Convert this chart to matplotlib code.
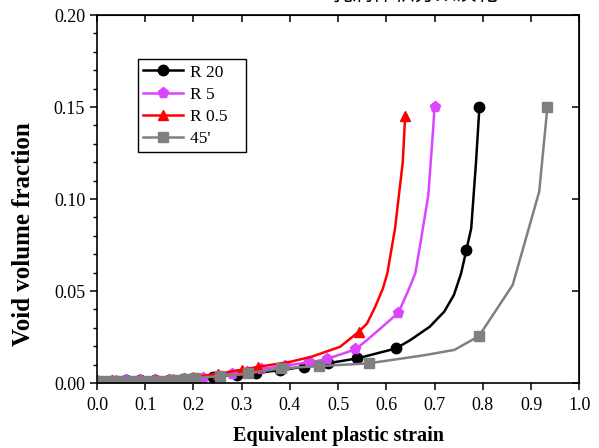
import matplotlib.pyplot as plt

plt.rcParams["font.family"] = ["Liberation Serif", "DejaVu Serif"]

# R 20
x_r20 = [0.00, 0.03, 0.06, 0.09, 0.12, 0.15, 0.18, 0.24, 0.29, 0.33, 0.38, 0.43,
         0.48, 0.54, 0.62, 0.65, 0.69, 0.72, 0.74, 0.755, 0.766, 0.776, 0.786, 0.793]
y_r20 = [0.0013, 0.0013, 0.0014, 0.0015, 0.0016, 0.0018, 0.0022, 0.0032, 0.0045,
         0.0055, 0.0070, 0.0089, 0.0108, 0.0134, 0.0188, 0.0234, 0.0306, 0.0388,
         0.0478, 0.0596, 0.0723, 0.0841, 0.1203, 0.150]
mk_r20 = list(range(15)) + [20, 23]

# R 5
x_r5 = [0.00, 0.03, 0.06, 0.09, 0.12, 0.15, 0.18, 0.22, 0.25, 0.28, 0.31, 0.34,
        0.39, 0.44, 0.476, 0.536, 0.56, 0.584, 0.625, 0.645, 0.66, 0.67, 0.687,
        0.697, 0.700]
y_r5 = [0.0013, 0.0013, 0.0014, 0.0015, 0.0016, 0.0018, 0.0022, 0.0030, 0.0040,
        0.0050, 0.0062, 0.0075, 0.0095, 0.0112, 0.0130, 0.0183, 0.0234, 0.0288,
        0.0382, 0.050, 0.0596, 0.075, 0.102, 0.138, 0.150]
mk_r5 = list(range(16)) + [18, 24]

# R 0.5
x_r05 = [0.00, 0.04, 0.085, 0.12, 0.158, 0.20, 0.25, 0.30, 0.334, 0.40, 0.445,
         0.504, 0.543, 0.56, 0.577, 0.593, 0.602, 0.618, 0.634, 0.639]
y_r05 = [0.0013, 0.0014, 0.0016, 0.0018, 0.0022, 0.0032, 0.0050, 0.0072, 0.0088,
         0.0115, 0.0143, 0.0197, 0.0279, 0.0324, 0.0415, 0.0515, 0.0596, 0.084,
         0.120, 0.145]
mk_r05 = list(range(9)) + [12, 19]

# 45'
x_45 = [0.00, 0.02, 0.04, 0.06, 0.08, 0.10, 0.12, 0.14, 0.16, 0.182, 0.203, 0.255,
        0.313, 0.382, 0.461, 0.563, 0.676, 0.741, 0.792, 0.862, 0.917, 0.934]
y_45 = [0.0012, 0.0012, 0.0012, 0.0012, 0.0012, 0.0012, 0.0013, 0.0013, 0.0014,
        0.0020, 0.0030, 0.0036, 0.0053, 0.0080, 0.0092, 0.0107, 0.0150, 0.0180,
        0.0255, 0.0533, 0.104, 0.150]
mk_45 = list(range(16)) + [18, 21]

x_ticks = [0.0, 0.1, 0.2, 0.3, 0.4, 0.5, 0.6, 0.7, 0.8, 0.9, 1.0]
y_ticks = [0.00, 0.05, 0.10, 0.15, 0.20]

fig = plt.figure(figsize=(5.99, 4.48), dpi=100)
ax = fig.add_axes([0.162, 0.145, 0.805, 0.8215])

ax.plot(x_r20, y_r20, color="black", lw=1.8, marker="o", ms=7.5,
        markevery=mk_r20, label="R 20")
ax.plot(x_r5, y_r5, color="#dd44ff", lw=1.8, marker="p", ms=8,
        markevery=mk_r5, label="R 5")
ax.plot(x_r05, y_r05, color="#ff0000", lw=1.8, marker="^", ms=7.5,
        markevery=mk_r05, label="R 0.5")
ax.plot(x_45, y_45, color="#808080", lw=1.8, marker="s", ms=6.5,
        markevery=mk_45, label="45'")

ax.set_xlim(0, 1.0)
ax.set_ylim(0, 0.20)
ax.set_xticks(x_ticks)
ax.set_yticks(y_ticks)
ax.set_xticklabels([f"{t:.1f}" for t in x_ticks])
ax.set_yticklabels([f"{t:.2f}" for t in y_ticks])
ax.set_yticks([i * 0.01 for i in range(21)], minor=True)
ax.tick_params(axis="both", which="major", direction="out", length=5,
               width=1.1, labelsize=13)
ax.tick_params(axis="x", which="major", pad=5)
ax.tick_params(axis="y", which="minor", direction="out", length=3, width=1)
for s in ax.spines.values():
    s.set_linewidth(1.2)

top = ax.secondary_xaxis("top")
top.set_xticks(x_ticks)
top.tick_params(direction="in", length=5, width=1.1, labeltop=False)
right = ax.secondary_yaxis("right")
right.set_yticks(y_ticks)
right.tick_params(direction="in", length=5, width=1.1, labelright=False)

ax.set_xlabel("Equivalent plastic strain", fontsize=14.5, fontweight="bold",
              labelpad=9)
ax.set_ylabel("Void volume fraction", fontsize=18, fontweight="bold")
ax.yaxis.set_label_coords(-0.128, 0.405)

handles, labels = ax.get_legend_handles_labels()
leg = ax.legend(handles, [lb + "   " for lb in labels], loc="upper left",
                bbox_to_anchor=(0.085, 0.88), fontsize=12.5,
                frameon=True, fancybox=False, edgecolor="black", framealpha=1,
                handlelength=2.3, labelspacing=0.35, borderpad=0.3,
                handletextpad=0.4, borderaxespad=0)
leg.get_frame().set_linewidth(1.0)

# title text cut off at the top edge of the original image
fig.text(0.693, 1.0 + 6 / 448, "孔洞体积分数演化", ha="center", va="center",
         fontsize=15, family=["Noto Sans CJK SC", "DejaVu Sans"])

fig.savefig("out.png", dpi=100)
